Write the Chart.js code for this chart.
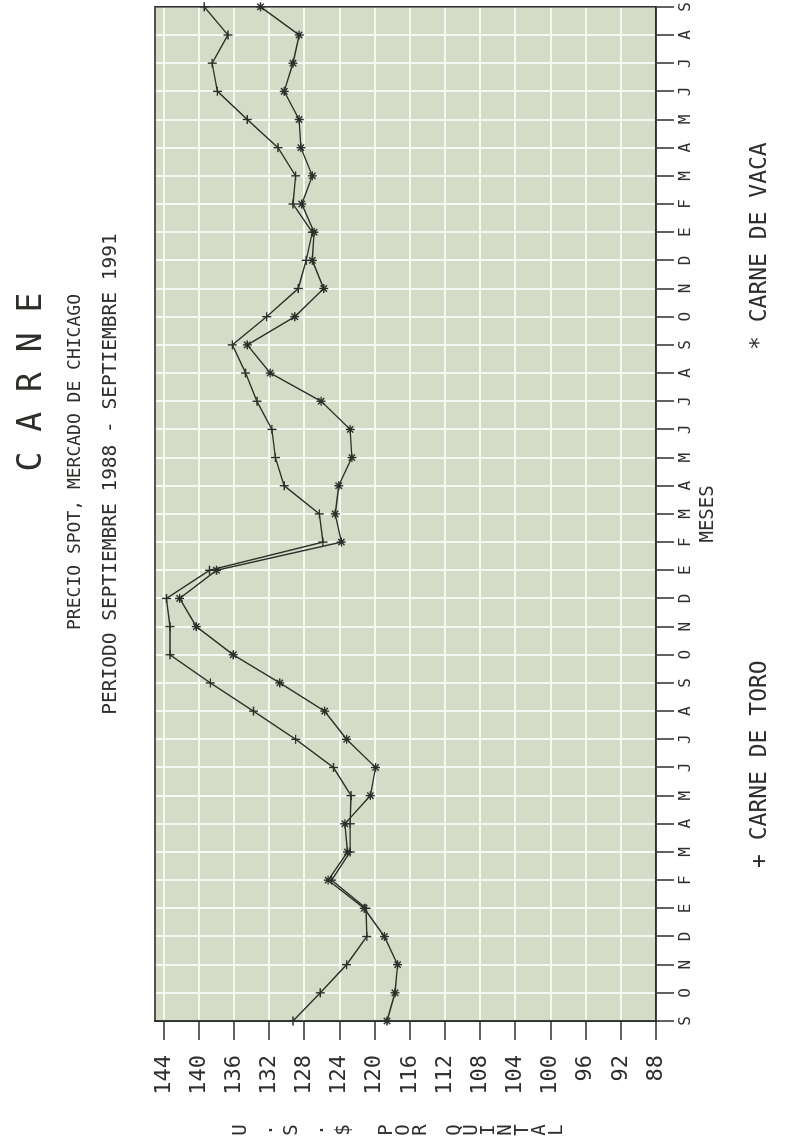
<!DOCTYPE html>
<html>
<head>
<meta charset="utf-8">
<script src="https://cdn.jsdelivr.net/npm/chart.js@4/dist/chart.umd.min.js"></script>
<style>
  html, body { margin: 0; padding: 0; background: #fff; }
  body { width: 788px; height: 1144px; overflow: hidden; position: relative; }
  /* The plot was drawn landscape and the page turned a quarter turn:
     draw it upright on a 1144x788 canvas and rotate the whole thing. */
  #turn {
    position: absolute; left: 0; top: 0;
    width: 1144px; height: 788px;
    transform-origin: 0 0;
    transform: translateY(1144px) rotate(-90deg);
  }
</style>
</head>
<body>
<div id="turn"><canvas id="c" width="1144" height="788"></canvas></div>
<script>
// Sep 1988 .. Sep 1991, Spanish month initials
const MONTHS = [
  "S", "O", "N", "D", "E", "F", "M", "A", "M", "J", "J", "A",
  "S", "O", "N", "D", "E", "F", "M", "A", "M", "J", "J", "A",
  "S", "O", "N", "D", "E", "F", "M", "A", "M", "J", "J", "A",
  "S",
];
// US$ per quintal
const TORO = [
  129.3, 126.2, 123.2, 120.9, 121.0, 124.9, 122.8, 122.8, 122.7, 124.7, 129.0, 133.8,
  138.7, 143.3, 143.3, 143.7, 138.8, 125.9, 126.3, 130.3, 131.3, 131.7, 133.4, 134.7,
  136.2, 132.3, 128.7, 127.8, 127.1, 129.3, 129.0, 131.0, 134.5, 137.9, 138.5, 136.7,
  139.4,
];
const VACA = [
  118.6, 117.7, 117.4, 118.9, 121.2, 125.3, 123.1, 123.4, 120.5, 119.9, 123.2, 125.7,
  130.8, 136.1, 140.3, 142.2, 138.0, 123.8, 124.5, 124.1, 122.6, 122.8, 126.1, 131.9,
  134.5, 129.1, 125.8, 127.1, 126.9, 128.3, 127.1, 128.4, 128.6, 130.3, 129.3, 128.6,
  133.0,
];
const VALUE_TICKS = [88, 92, 96, 100, 104, 108, 112, 116, 120, 124, 128, 132, 136, 140, 144];

const TITLE = "C A R N E";
const SUBTITLE = [
  "PRECIO SPOT, MERCADO DE CHICAGO",
  "PERIODO SEPTIEMBRE 1988 - SEPTIEMBRE 1991",
];
const Y_TITLE = "U.S.$ POR QUINTAL";
const LEGEND = ["+ CARNE DE TORO", "* CARNE DE VACA"];

const INK = "#2c2f2a";
const PAPER = "#d4dbc6";
const GRID = "#f6f8f1";
const MONO = '"DejaVu Sans Mono", "Liberation Mono", monospace';

// Green chart paper behind the grid, pen frame and lettering on top.
const plotterPaper = {
  id: "plotterPaper",
  beforeDraw(chart) {
    const { ctx, chartArea: a } = chart;
    ctx.save();
    ctx.fillStyle = PAPER;
    ctx.fillRect(a.left, a.top, a.width, a.height);
    ctx.restore();
  },
  afterDraw(chart) {
    const { ctx, chartArea: a } = chart;
    ctx.save();
    ctx.strokeStyle = INK;
    ctx.lineWidth = 1.6;
    ctx.strokeRect(a.left, a.top, a.width, a.height);

    ctx.fillStyle = INK;
    ctx.textAlign = "center";
    ctx.textBaseline = "middle";
    ctx.font = `33px ${MONO}`;
    ctx.fillText(TITLE, 762, 32);
    ctx.font = `18px ${MONO}`;
    ctx.fillText(SUBTITLE[0], 682, 75);
    ctx.font = `19.5px ${MONO}`;
    ctx.fillText(SUBTITLE[1], 670, 111);

    // axis title is lettered one character under the other
    ctx.font = `19px ${MONO}`;
    let y = 241;
    let inUnit = true;
    for (const ch of Y_TITLE) {
      if (ch === " ") inUnit = false;
      if (ch !== " ") ctx.fillText(ch, 14, y);
      y += inUnit ? 25.75 : 17;
    }

    ctx.textAlign = "left";
    ctx.font = `23px ${MONO}`;
    ctx.fillText(LEGEND[0], 276, 760);
    ctx.fillText(LEGEND[1], 794, 760);
    ctx.restore();
  },
};

const gridOpts = (tickLength) => ({
  color: GRID,
  lineWidth: 2,
  tickColor: INK,
  tickWidth: 1.5,
  tickLength,
});

new Chart(document.getElementById("c"), {
  type: "line",
  data: {
    labels: MONTHS,
    datasets: [
      {
        label: "CARNE DE TORO",
        data: TORO,
        borderColor: INK,
        borderWidth: 1.4,
        pointStyle: "cross",
        pointRadius: 4.5,
        pointBorderColor: INK,
        pointBorderWidth: 1.4,
        tension: 0,
      },
      {
        label: "CARNE DE VACA",
        data: VACA,
        borderColor: INK,
        borderWidth: 1.4,
        pointStyle: "star",
        pointRadius: 4.5,
        pointBorderColor: INK,
        pointBorderWidth: 1.4,
        tension: 0,
      },
    ],
  },
  options: {
    responsive: false,
    animation: false,
    devicePixelRatio: 1,
    layout: { padding: { top: 155, right: 5, bottom: 0, left: 0 } },
    plugins: {
      legend: { display: false },
      tooltip: { enabled: false },
    },
    scales: {
      x: {
        offset: false,
        grid: gridOpts(18),
        border: { display: true, color: INK, width: 1.6 },
        ticks: {
          color: INK,
          font: { family: MONO, size: 16 },
          padding: 2,
          autoSkip: false,
          maxRotation: 0,
        },
        title: {
          display: true,
          text: "MESES",
          color: INK,
          font: { family: MONO, size: 19 },
          padding: { top: 0, bottom: 69 },
        },
        afterFit: (s) => { s.height = 132; },
      },
      y: {
        min: 88,
        max: 145,
        afterBuildTicks: (s) => { s.ticks = VALUE_TICKS.map((v) => ({ value: v })); },
        grid: gridOpts(19),
        border: { display: true, color: INK, width: 1.6 },
        ticks: {
          color: INK,
          font: { family: MONO, size: 22 },
          padding: 15,
        },
        afterFit: (s) => { s.width = 123; },
      },
    },
  },
  plugins: [plotterPaper],
});
</script>
</body>
</html>
